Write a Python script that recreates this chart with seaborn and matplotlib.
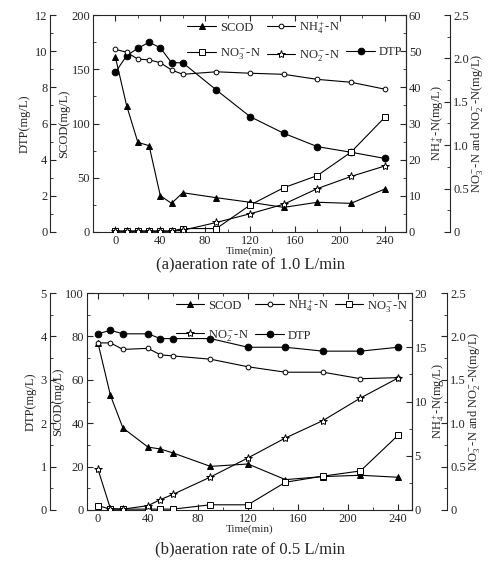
import numpy as np
import pandas as pd
import matplotlib
matplotlib.use("Agg")
import matplotlib.pyplot as plt
import seaborn as sns
from matplotlib.ticker import MultipleLocator, AutoMinorLocator, FuncFormatter
from matplotlib.lines import Line2D

# ---------------- data ----------------
time_a = [0, 10, 20, 30, 40, 50, 60, 90, 120, 150, 180, 210, 240]
scod_a = [161, 116.4, 82.6, 79.6, 33.5, 26.4, 36.2, 31.6, 27.4, 22.7, 27.4, 26.4, 39.6]
dtp_a = [8.83, 9.75, 10.16, 10.49, 10.19, 9.36, 9.36, 7.85, 6.38, 5.46, 4.72, 4.41, 4.07]
nh4_a = [50.5, 49.7, 47.8, 47.6, 46.8, 44.8, 43.6, 44.3, 43.9, 43.6, 42.2, 41.4, 39.5]
no3_a = [0.01, 0.01, 0.01, 0.01, 0.01, 0.01, 0.04, 0.04, 0.31, 0.51, 0.65, 0.92, 1.32]
no2_a = [0.01, 0.01, 0.01, 0.01, 0.01, 0.01, 0.02, 0.11, 0.21, 0.32, 0.50, 0.64, 0.76]

time_b = [0, 10, 20, 40, 50, 60, 90, 120, 150, 180, 210, 240]
scod_b = [77, 52.8, 37.8, 29.0, 28.1, 26.3, 20.1, 21.2, 14.0, 15.4, 16.0, 15.1]
dtp_b = [4.06, 4.14, 4.06, 4.06, 3.95, 3.95, 3.95, 3.75, 3.75, 3.66, 3.66, 3.75]
nh4_b = [15.4, 15.4, 14.8, 14.9, 14.3, 14.2, 13.9, 13.2, 12.7, 12.7, 12.1, 12.2]
no3_b = [0.05, 0.01, 0.01, 0.01, 0.01, 0.01, 0.06, 0.06, 0.32, 0.39, 0.45, 0.86]
no2_b = [0.47, 0.015, 0.01, 0.05, 0.12, 0.18, 0.38, 0.60, 0.83, 1.03, 1.29, 1.52]

x_ticks = [0, 40, 80, 120, 160, 200, 240]
lab_scod = "SCOD"
lab_nh4 = r"$\mathregular{NH_4^+}$-N"
lab_no3 = r"$\mathregular{NO_3^-}$-N"
lab_no2 = r"$\mathregular{NO_2^-}$-N"
lab_dtp = "DTP"
caption_a = "(a)aeration rate of 1.0 L/min"
caption_b = "(b)aeration rate of 0.5 L/min"

# ---------------- style ----------------
sns.set_style("ticks")
plt.rcParams["font.family"] = ["Liberation Serif", "DejaVu Serif"]
plt.rcParams["mathtext.fontset"] = "stix"
plt.rcParams["axes.linewidth"] = 0.8
FS = 9

fig = plt.figure(figsize=(4.95, 5.67), dpi=100)
W, H = 495, 567


def box(x0, y0, x1, y1):
    return [x0 / W, 1 - y1 / H, (x1 - x0) / W, (y1 - y0) / H]


def fmt_no(v, pos):
    return "0" if abs(v) < 1e-9 else f"{v:.1f}"


def fmt_int(v, pos):
    return f"{v:g}"


def style_ticks(a, axis="y"):
    a.tick_params(axis=axis, which="major", direction="in", length=4, width=0.8, labelsize=FS, pad=2)
    a.tick_params(axis=axis, which="minor", direction="in", length=2, width=0.6)


def panel(rect, t, scod, dtp, nh4, no3, no2, xlim, lims, steps, left_pos, right_pos, order, lspace, nh_pad):
    ax = fig.add_axes(rect)
    ax_dtp = ax.twinx()
    ax_nh = ax.twinx()
    ax_no = ax.twinx()

    lw = 0.8
    common = dict(color="black", linewidth=lw, markeredgecolor="black", markeredgewidth=0.7, legend=False)
    handles = {}
    sns.lineplot(x=t, y=scod, ax=ax, marker="^", markersize=4.6, markerfacecolor="black", label=lab_scod, **common)
    handles[lab_scod] = ax.lines[-1]
    sns.lineplot(x=t, y=dtp, ax=ax_dtp, marker="o", markersize=4.8, markerfacecolor="black", label=lab_dtp, **common)
    handles[lab_dtp] = ax_dtp.lines[-1]
    sns.lineplot(x=t, y=nh4, ax=ax_nh, marker="o", markersize=3.4, markerfacecolor="white", label=lab_nh4, **common)
    handles[lab_nh4] = ax_nh.lines[-1]
    sns.lineplot(x=t, y=no3, ax=ax_no, marker="s", markersize=4.0, markerfacecolor="white", label=lab_no3, **common)
    handles[lab_no3] = ax_no.lines[-1]
    sns.lineplot(x=t, y=no2, ax=ax_no, marker="*", markersize=6.0, markerfacecolor="white", label=lab_no2, **common)
    handles[lab_no2] = ax_no.lines[-1]

    # x axis
    ax.set_xlim(*xlim)
    ax.set_xticks(x_ticks)
    ax.xaxis.set_minor_locator(MultipleLocator(20))
    style_ticks(ax, "x")
    ax.tick_params(axis="x", which="both", top=True)
    ax.set_xlabel("Time(min)", fontsize=8, labelpad=0)

    # SCOD axis (main, left)
    ax.set_ylim(0, lims[0])
    ax.yaxis.set_major_locator(MultipleLocator(steps[0]))
    ax.yaxis.set_minor_locator(AutoMinorLocator(2))
    ax.yaxis.set_major_formatter(FuncFormatter(fmt_int))
    style_ticks(ax, "y")
    ax.tick_params(axis="y", which="both", right=False)
    ax.set_ylabel("SCOD(mg/L)", fontsize=FS, labelpad=1)

    # DTP axis (offset left)
    ax_dtp.set_ylim(0, lims[1])
    ax_dtp.yaxis.set_ticks_position("left")
    ax_dtp.yaxis.set_label_position("left")
    for s in ["right", "top", "bottom"]:
        ax_dtp.spines[s].set_visible(False)
    ax_dtp.spines["left"].set_visible(True)
    ax_dtp.spines["left"].set_position(("axes", left_pos))
    ax_dtp.yaxis.set_major_locator(MultipleLocator(steps[1]))
    ax_dtp.yaxis.set_minor_locator(AutoMinorLocator(2))
    ax_dtp.yaxis.set_major_formatter(FuncFormatter(fmt_int))
    style_ticks(ax_dtp, "y")
    ax_dtp.tick_params(axis="y", which="both", left=True, right=False, direction="in")
    ax_dtp.set_ylabel("DTP(mg/L)", fontsize=FS, labelpad=3)

    # NH4 axis (right)
    ax_nh.set_ylim(0, lims[2])
    for s in ["left", "top", "bottom"]:
        ax_nh.spines[s].set_visible(False)
    ax_nh.yaxis.set_major_locator(MultipleLocator(steps[2]))
    ax_nh.yaxis.set_minor_locator(AutoMinorLocator(2))
    ax_nh.yaxis.set_major_formatter(FuncFormatter(fmt_int))
    style_ticks(ax_nh, "y")
    ax_nh.set_ylabel(r"$\mathregular{NH_4^+}$-N(mg/L)", fontsize=FS, labelpad=nh_pad)

    # NO3/NO2 axis (offset right)
    ax_no.set_ylim(0, lims[3])
    for s in ["left", "top", "bottom"]:
        ax_no.spines[s].set_visible(False)
    ax_no.spines["right"].set_position(("axes", right_pos))
    ax_no.yaxis.set_major_locator(MultipleLocator(0.5))
    ax_no.yaxis.set_minor_locator(AutoMinorLocator(2))
    ax_no.yaxis.set_major_formatter(FuncFormatter(fmt_no))
    style_ticks(ax_no, "y")
    ax_no.set_ylabel(r"$\mathregular{NO_3^-}$-N and $\mathregular{NO_2^-}$-N(mg/L)", fontsize=FS, labelpad=0)

    blank = Line2D([], [], linestyle="none", marker=None)
    hs = [handles[k] if k is not None else blank for k in order]
    ls = [k if k is not None else "" for k in order]
    ax_no.legend(hs, ls, ncol=3, loc="upper right", bbox_to_anchor=(1.0, 1.0), frameon=False,
                 fontsize=FS, handlelength=2.3, handletextpad=0.3, columnspacing=0.5,
                 labelspacing=lspace, borderaxespad=0.2, borderpad=0.1)
    return ax


panel(box(93, 15, 406, 232), time_a, scod_a, dtp_a, nh4_a, no3_a, no2_a,
      (-20, 259), (200, 12, 60, 2.5), (50, 2, 10), -0.137, 1.142,
      [lab_scod, lab_no3, lab_nh4, lab_no2, None, lab_dtp], 1.0, 6)
panel(box(86.7, 293, 411.7, 510), time_b, scod_b, dtp_b, nh4_b, no3_b, no2_b,
      (-9, 251), (100, 5, 20, 2.5), (20, 1, 5), -0.114, 1.110,
      [lab_scod, lab_no2, lab_nh4, lab_dtp, lab_no3], 1.3, 2)

fig.text(250 / W, 1 - 265 / H, caption_a, ha="center", va="center", fontsize=12)
fig.text(250 / W, 1 - 549 / H, caption_b, ha="center", va="center", fontsize=12)

fig.savefig("out.png", dpi=100)
